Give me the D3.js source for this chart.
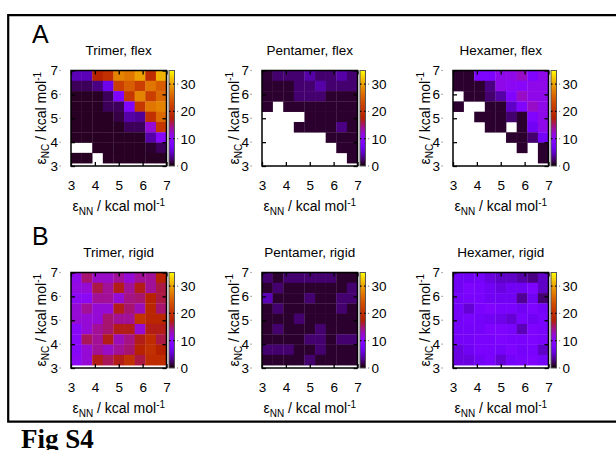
<!DOCTYPE html>
<html>
<head>
<meta charset="utf-8">
<script src="https://cdn.jsdelivr.net/npm/d3@7"></script>
<style>
body { margin: 0; background: #fff; }
text { font-family: "Liberation Sans", Arial, sans-serif; fill: #000; }
.title, .tick text, .cb-label { font-size: 13.5px; }
.axis-label { font-size: 14px; }
</style>
</head>
<body>
<svg id="fig" width="616" height="450"></svg>
<script>
// cell lower edges (kcal/mol), 9 x 9 grid
var nnLow = [3.0, 3.444, 3.889, 4.333, 4.778, 5.222, 5.667, 6.111, 6.556],
    ncLow = [3.12, 3.551, 3.982, 4.413, 4.844, 5.276, 5.707, 6.138, 6.569],
    cellW = 0.444, cellH = 0.431;

var axisTicks = [3, 4, 5, 6, 7],
    cbTicks = [0, 10, 20, 30],
    cbMax = 35;

var titles = [["Trimer, flex", "Pentamer, flex", "Hexamer, flex"],
              ["Trimer, rigid", "Pentamer, rigid", "Hexamer, rigid"]];
var panelLetters = ["A", "B"];

// rows listed from top (eps_NC ~ 7) to bottom (eps_NC ~ 3); null = no data
var trimerFlex = [
	[4.5, 4.5, 18, 20, 28, 27, 30, 19.5, 31],
	[2, 2, 3, 6.5, 22, 25, 22, 27, 25],
	[0.8, 0.8, 0.8, 2, 8.5, 21, 28, 22, 26],
	[0.8, 0.8, 0.8, 2, 2, 9, 21, 27, 28],
	[0.8, 0.8, 0.8, 0.8, 1.5, 4, 3.5, 20, 26],
	[0.8, 0.8, 0.8, 0.8, 0.8, 2, 2, 12, 21],
	[0.8, 0.8, 0.8, 0.8, 0.8, 0.8, 0.8, 4, 10],
	[null, null, 0.8, 0.8, 0.8, 0.8, 0.8, 1, 2],
	[0.8, 0.8, null, 0.8, 0.8, 0.8, 0.8, 0.8, 0.8]
];
var pentamerFlex = [
	[1.2, 2.5, 2.5, 2.5, 4, 2.5, 2.5, 4, 2.5],
	[1, 1, 1, 2.5, 2.5, 4, 2.5, 2.5, 2.5],
	[1, 1, 1, 2.5, 2.5, 2.5, 1, 1, 1],
	[1, null, 1, 1, 1, 1, 1, 1, 1],
	[null, null, null, null, 1, 1, 1, 1, 1],
	[null, null, null, 1, 1, 1, 1, 3, 1],
	[null, null, null, null, null, null, 1, 1, 1],
	[null, null, null, null, null, null, null, 1, 1],
	[null, null, null, null, null, null, null, null, 1]
];
var hexamerFlex = [
	[1, 1, 8.5, 8.5, 11, 11, 12.5, 9, 11],
	[1, 1, 1, 3, 11, 10.5, 10, 11, 11],
	[null, 1, 1, 2.5, 4, 9, 12.5, 11, 11],
	[1, null, null, 1, 1, 5, 9, 12.5, 11],
	[null, null, 1, 1, 1, 2.5, 1, 9, 11],
	[null, null, null, 1, 1, null, 1, 7, 11],
	[null, null, null, null, null, 1, 1, 2.5, 7.5],
	[null, null, null, null, null, null, 1, null, 1],
	[null, null, null, null, null, null, null, null, 1]
];
var trimerRigid = [
	[11, 15, 12.5, 12.5, 14, 12, 14, 14, 18],
	[11.5, 12, 16, 14, 17, 14, 17, 14, 16],
	[10.5, 10.5, 14, 14, 12, 14.5, 15, 18, 16],
	[12, 14, 12, 12, 17, 15, 13, 18.5, 15],
	[12, 12, 12, 15, 14, 14, 20.5, 18.5, 18.5],
	[10, 12, 14, 15, 17, 17, 12, 17, 17],
	[10, 15.5, 14, 17, 13, 14.5, 17, 19.5, 16],
	[10, 12, 14, 12.5, 14, 15, 18, 20, 17.5],
	[10.5, 12, 17, 15.5, 17, 20, 16, 19.5, 19.5]
];
var pentamerRigid = [
	[2.5, 1, 2.5, 2.5, 2.5, 2.5, 2.5, 1, 1],
	[1, 2.5, 1, 1, 1, 1, 1, 1, 2.5],
	[4.5, 1, 1, 1, 2.5, 1, 1, 2.5, 2.5],
	[1, 2.5, 1, 1, 1, 1, 1, 2.5, 1],
	[1, 1, 1, 2.5, 1, 1, 1, 1, 1],
	[1, 2.5, 1, 1, 1, 2.5, 1, 1, 1],
	[1, 1, 1, 1, 2.5, 2.5, 1, 2.5, 2.5],
	[2.5, 2.5, 2.5, 1, 1, 2.5, 1, 1, 1],
	[1, 1, 1, 1, 2.5, 1, 1, 1, 1]
];
var hexamerRigid = [
	[7, 7, 7.5, 6, 5, 5, 4, 3, 5],
	[7, 8.5, 8, 7, 6, 7, 7, 8.5, 5],
	[7.5, 8, 8, 7, 7, 7, 3.5, 7, 2.5],
	[7.5, 5.5, 8, 9, 8, 8, 7, 8.5, 7.5],
	[7.5, 8, 7.5, 7, 6.5, 5.5, 8, 7, 8],
	[7.5, 7.5, 7.5, 8.5, 8.5, 8, 4.5, 8.5, 8],
	[7.5, 7.5, 8, 8, 8.5, 8, 8, 8.5, 8],
	[6, 7, 8, 8, 7.5, 8.5, 7.5, 8, 5],
	[6, 6, 7, 8, 5.5, 7.5, 8, 8.5, 7.5]
];

var grids = [[trimerFlex, pentamerFlex, hexamerFlex],
             [trimerRigid, pentamerRigid, hexamerRigid]];

// layout
var plotSize = 95.5,
    colLeft = [71, 262, 453],
    rowTop = [70.5, 272.5],
    yLabelOff = [25, 23.5, 23.5];

var svg = d3.select('#fig');

// gnuplot rgbformulae 7,5,15
function palette(t){
	t = Math.max(0, Math.min(1, t));
	var r = Math.sqrt(t), g = t * t * t, b = Math.max(0, Math.sin(2 * Math.PI * t));
	return d3.rgb(r * 255, g * 255, b * 255);
}

// outer frame
svg.append('path')
	.attr('d', 'M617,15.2H8.2V421.7H617')
	.attr('fill', 'none')
	.attr('stroke', '#000')
	.attr('stroke-width', 2.2);

svg.append('text')
	.attr('x', 21)
	.attr('y', 447.5)
	.style('font-family', '"Liberation Serif", "Times New Roman", serif')
	.style('font-weight', 'bold')
	.style('font-size', '27px')
	.text('Fig S4');

panelLetters.forEach(function(l, r){
	svg.append('text')
		.attr('x', 32)
		.attr('y', rowTop[r] - 27.5)
		.style('font-size', '25px')
		.text(l);
});

// gradient for colorbar
var defs = svg.append('defs');
var grad = defs.append('linearGradient')
	.attr('id', 'cbGrad')
	.attr('x1', 0).attr('y1', 1).attr('x2', 0).attr('y2', 0);
d3.range(0, 1.0001, 0.02).forEach(function(t){
	grad.append('stop').attr('offset', t).attr('stop-color', palette(t));
});

function drawPanel(r, c){
	var left = colLeft[c], top = rowTop[r];
	var x = d3.scaleLinear().domain([3, 7]).range([left, left + plotSize]);
	var y = d3.scaleLinear().domain([3, 7]).range([top + plotSize, top]);
	var g = svg.append('g').attr('class', 'panel');
	var data = grids[r][c];

	var cells = [];
	data.forEach(function(row, i){
		row.forEach(function(v, j){
			if (v === null) return;
			cells.push({ nn: nnLow[j], nc: ncLow[8 - i], v: v });
		});
	});

	g.selectAll('rect.cell')
		.data(cells)
		.enter()
		.append('rect')
		.attr('class', 'cell')
		.attr('x', function(d){ return x(d.nn); })
		.attr('y', function(d){ return y(Math.min(d.nc + cellH, 7)); })
		.attr('width', function(d){ return x(Math.min(d.nn + cellW, 7)) - x(d.nn) + 0.3; })
		.attr('height', function(d){ return y(d.nc) - y(Math.min(d.nc + cellH, 7)) + 0.3; })
		.attr('fill', function(d){ return palette(d.v / cbMax); });

	// axes with inward ticks
	g.append('g')
		.attr('class', 'axis')
		.attr('transform', 'translate(0,' + (top + plotSize) + ')')
		.call(d3.axisBottom(x).tickValues(axisTicks).tickSize(-4).tickPadding(14.5).tickFormat(d3.format('d')));
	g.append('g')
		.attr('class', 'axis')
		.attr('transform', 'translate(0,' + top + ')')
		.call(d3.axisTop(x).tickValues(axisTicks).tickSize(-4).tickFormat(''));
	g.append('g')
		.attr('class', 'axis')
		.attr('transform', 'translate(' + left + ',0)')
		.call(d3.axisLeft(y).tickValues(axisTicks).tickSize(-4).tickPadding(13).tickFormat(d3.format('d')));
	g.append('g')
		.attr('class', 'axis')
		.attr('transform', 'translate(' + (left + plotSize) + ',0)')
		.call(d3.axisRight(y).tickValues(axisTicks).tickSize(-4).tickFormat(''));

	g.selectAll('.axis .domain').remove();
	g.selectAll('.axis .tick line').attr('stroke', '#000').attr('stroke-width', 1.3);
	g.selectAll('.axis .tick text').style('font-size', '13.5px').style('font-family', '"Liberation Sans", Arial, sans-serif');

	// faint outer tick stubs next to y labels
	g.selectAll('rect.ystub')
		.data(axisTicks)
		.enter()
		.append('rect')
		.attr('class', 'ystub')
		.attr('x', left - 11.5).attr('width', 1.2)
		.attr('y', function(d){ return y(d) - 0.6; }).attr('height', 1.2)
		.attr('fill', '#888');

	g.append('rect')
		.attr('x', left).attr('y', top)
		.attr('width', plotSize).attr('height', plotSize)
		.attr('fill', 'none')
		.attr('stroke', '#000')
		.attr('stroke-width', 1.5);

	// title
	g.append('text')
		.attr('class', 'title')
		.attr('x', left + plotSize / 2)
		.attr('y', top - 16)
		.attr('text-anchor', 'middle')
		.text(titles[r][c]);

	// x label
	var xl = g.append('text')
		.attr('class', 'axis-label')
		.attr('x', left + plotSize / 2)
		.attr('y', top + plotSize + 45)
		.attr('text-anchor', 'middle');
	xl.append('tspan').text('ε');
	xl.append('tspan').attr('dy', 3.5).style('font-size', '10px').text('NN');
	xl.append('tspan').attr('dy', -3.5).text(' / kcal mol');
	xl.append('tspan').attr('dy', -5.5).style('font-size', '10px').text('-1');

	// y label
	var yl = g.append('text')
		.attr('class', 'axis-label')
		.attr('text-anchor', 'middle')
		.attr('transform', 'translate(' + (left - yLabelOff[c]) + ',' + (top + plotSize / 2) + ') rotate(-90)');
	yl.append('tspan').text('ε');
	yl.append('tspan').attr('dy', 3).style('font-size', '10px').text('NC');
	yl.append('tspan').attr('dy', -3).text(' / kcal mol');
	yl.append('tspan').attr('dy', -5.5).style('font-size', '10px').text('-1');

	// colorbar
	var cbX = left + plotSize + 2.5, cbW = 5.5;
	var cy = d3.scaleLinear().domain([0, cbMax]).range([top + plotSize, top]);
	g.append('rect')
		.attr('x', cbX).attr('y', top)
		.attr('width', cbW).attr('height', plotSize)
		.attr('fill', 'url(#cbGrad)')
		.attr('stroke', '#555')
		.attr('stroke-width', 1);
	g.selectAll('line.cb-tick')
		.data(cbTicks.slice(1))
		.enter()
		.append('line')
		.attr('class', 'cb-tick')
		.attr('x1', cbX).attr('x2', cbX + cbW)
		.attr('y1', function(d){ return cy(d); })
		.attr('y2', function(d){ return cy(d); })
		.attr('stroke', '#000')
		.attr('stroke-width', 1.2)
		.attr('stroke-dasharray', '1.5,2.5,1.5');
	g.selectAll('rect.cbstub')
		.data(cbTicks)
		.enter()
		.append('rect')
		.attr('class', 'cbstub')
		.attr('x', cbX + cbW + 2.5).attr('width', 1.2)
		.attr('y', function(d){ return cy(d) - 0.6; }).attr('height', 1.2)
		.attr('fill', '#888');
	g.selectAll('text.cb-label')
		.data(cbTicks)
		.enter()
		.append('text')
		.attr('class', 'cb-label')
		.attr('x', cbX + cbW + 6)
		.attr('y', function(d){ return cy(d); })
		.attr('dy', '0.36em')
		.text(function(d){ return d; });
}

for (var r = 0; r < 2; r++){
	for (var c = 0; c < 3; c++){
		drawPanel(r, c);
	}
}
</script>
</body>
</html>
